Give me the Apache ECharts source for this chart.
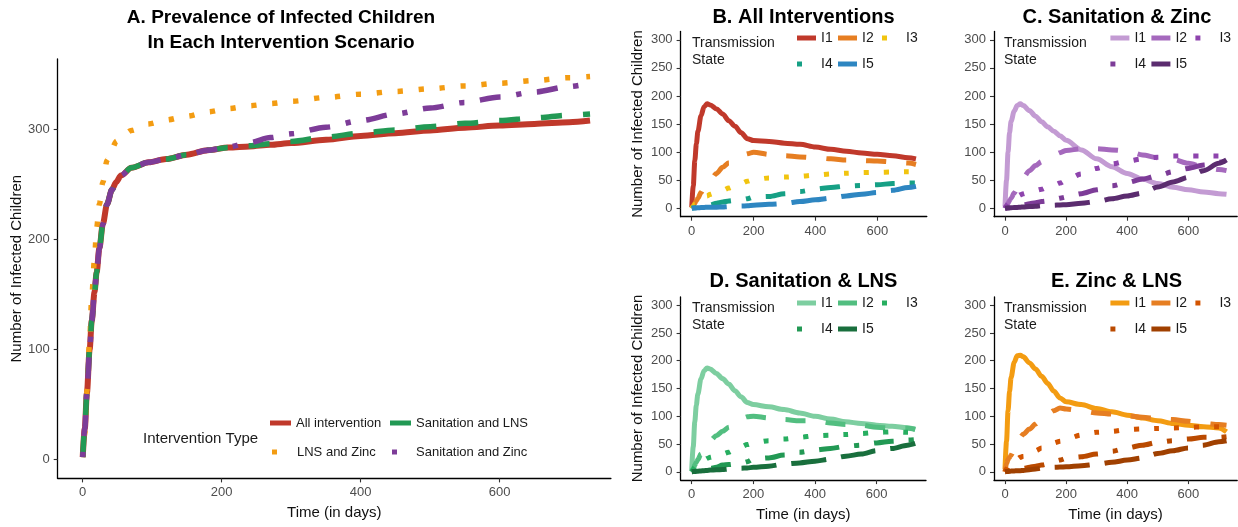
<!DOCTYPE html>
<html><head><meta charset="utf-8">
<script src="https://cdn.jsdelivr.net/npm/echarts@6/dist/echarts.min.js"></script>
<style>html,body{margin:0;padding:0;background:#fff}#c{width:1238px;height:527px}</style>
</head><body><div id="c"></div>
<script>
// ---------- Panel A data ----------
const daysA = [0,3,6,10,13,17,20,24,29,35,42,48,55,70,95,120,150,180,210,240,270,300,350,400,450,500,550,600,650,700,730];
const allIntervention = [2,28,60,100,126,152,170,192,214,232,245,252,258,265,270,273,277,281,283.5,284.5,286,287.5,290.5,294,296.5,299,301.5,303.5,305,306.5,308];
const lnsZinc = [2,24,62,108,148,182,210,232,252,272,282,289,293,299,305,308.5,312,316,319,321.5,323.5,325.5,329,332,334.5,337,339.5,342,344.5,347,348];
const sanitationLns = [2,28,60,100,126,152,170,192,214,232,245,252,258,265,270,273,277,281,283.5,285,287,289,293,296.5,299.5,302.5,305.5,308,310.5,313,314];
const sanitationZinc = [2,28,60,100,126,152,170,192,214,232,245,252,258,265,270,273,277,281,284,288,292.5,296,302,308,314,319.5,324.5,329.5,334,339,342];

// ---------- Panels B-E data ----------
const daysS = [0,5,10,15,20,30,40,50,60,80,100,120,140,160,180,200,250,300,350,400,450,500,550,600,650,700,725];
const allI1 = [2,40,85,115,137,165,181,186,184,177,168,156,146,134.5,124,120.5,119,116,114,109,105,101.5,98.5,96,93.5,90,88];
const allI2 = [0,4,9,14,18,28,36,43,50,62,73,81,87,92,97,100,96,93.5,91.5,90,88,86,85,84,82.5,80.5,78];
const allI3 = [0,3,7,10,13,17,20,22,25,29,32,36,40,44,48,51,54,55.5,57,59,61,62.5,63.5,64,64.5,65,65];
const allI4 = [0,0.5,1,1.5,2,3,4,5,6,9,11,13,14,15,17,20,21,26,30,34,37,39.5,40.5,42,44,45,45];
const allI5 = [0,0.3,0.5,0.7,1,1.2,1.5,1.8,2,2,2.3,3,3.3,4,4.5,5.5,7,8.5,12,15,18,22,25,28,32,37,39];

const szI1 = [3,50,100,135,155,173,183,186,183,174,164,154,145,137,129,121,104,88,74,62,52,44,37.5,33,29,26,25];
const szI2 = [0,4,9,14,18,27,35,45,55,67,76,83,89,94,99,103,106,106,104,102,95,90,87,80,74,69,67];
const szI3 = [0,4,8,11,14,18,21,24,26,30,32,34,38,41,45,50,61,71,79,84,88,91,93,93,93,93,93];
const szI4 = [0,0.5,1,1.5,2,3,4,5,6,8,10,12,13,15,18,20,26,33,40,46,52,58,65,71,77,82,85];
const szI5 = [0,0.2,0.5,0.7,1,1.3,1.6,2,2.3,3,3.5,4.5,5,5.5,6,6.5,9,12,17,22,27,38,47,55,67,80,86];

const slI1 = [3,45,90,120,140,167,182,187,185,177,168,158,146,135,125,121,117,112,106,100,95,90,87,84,82,79,77];
const slI2 = [0,5,12,17,22,32,40,48,56,65,73,80,88,95,99,100,97,94,92,92,88,85,84,80,79,79,76];
const slI3 = [0,4,8,11,14,18,21,24,26,29,32,35,40,45,49,52,56,59,62,65,66,67,69,71,72,71,71];
const slI4 = [0,0.5,1,1.5,2,3,4,5,6,8,12,13,14,15,18,23,25,30,35,39,42,46,48,52,55,57,58];
const slI5 = [0,0.3,0.5,0.8,1,1.5,2,2.5,3,3.5,4,5,6,6.5,7,8,10,14,16,19,23,28,32,38,42,48,51];

const zlI1 = [5,55,110,145,170,197,209,210,207,196,185,172,159,145,133,126,121,114,108,102,97,92,87,84,81,79,72];
const zlI2 = [0,15,22,26,30,40,52,62,68,77,86,96,104,110,115,113,110,106,104,101,98,96,94,91,87,85,84];
const zlI3 = [0,5,10,13,16,20,23,26,28,34,38,43,47,52,55,59,66,71,73,76,77,78,79,80,81,81,81];
const zlI4 = [0,0.5,1,2,2.5,3.5,4,5,6,8,10,12,14,18,21,24,27,32,37,43,48,53,56,59,62,62,63];
const zlI5 = [0,0.3,0.6,1,1.2,1.5,1.8,2,2.5,3.5,5,6.5,8,8,8.5,9,11,13.5,17,21,25,33,38,43,48,54,56];

const xTicks = [0,200,400,600];
const yTicksA = [0,100,200,300];
const yTicksS = [0,50,100,150,200,250,300];
const stateNames = ['I1','I2','I3','I4','I5'];

// ---------- styling ----------
const FONT = 'Liberation Sans, Arial, Helvetica, sans-serif';
const colorsA = {all:'#C0392B', lz:'#F39C12', sl:'#229954', sz:'#7D3C98'};
const palB = ['#C0392B','#E67E22','#F1C40F','#16A085','#2E86C1'];
const palC = ['#C39BD3','#A569BD','#8E44AD','#7D3C98','#5B2C6F'];
const palD = ['#7DCEA0','#52BE80','#27AE60','#229954','#196F3D'];
const palE = ['#F39C12','#E67E22','#D35400','#BA4A00','#A04000'];
const dashA = {dashed:[21,21], dotted:[5.25,15.75], dotdash:[5.25,15.75,21,15.75]};
const dashS = ['solid',[20,20],[5,15],[5,15,20,15],[35,15]];

// grids: [left, top, width, height]
const grids = [
  [57.7, 59, 553.2, 419.4],   // A
  [680.6, 31.4, 246.2, 185.3], // B
  [994, 31.4, 243.2, 185.3],   // C
  [680.6, 296.9, 245.4, 183.2],// D
  [994, 296.9, 243.2, 183.2]   // E
];

function xAx(gi, showName){
  return {type:'value', gridIndex:gi, min:-36, max:760,
    axisLine:{show:true, onZero:false, lineStyle:{color:'#000', width:1.3}},
    axisTick:{show:true, length:4, customValues:xTicks, lineStyle:{color:'#333', width:1.1}},
    axisLabel:{customValues:xTicks, color:'#4d4d4d', fontSize:13, margin:8, fontFamily:FONT},
    splitLine:{show:false},
    name: showName ? 'Time (in days)' : '', nameLocation:'middle', nameGap:27,
    nameTextStyle:{fontSize:15, color:'#111', fontFamily:FONT}};
}
function yAx(gi, min, max, ticks, showName, gap){
  return {type:'value', gridIndex:gi, min, max,
    axisLine:{show:true, onZero:false, lineStyle:{color:'#000', width:1.3}},
    axisTick:{show:true, length:4, customValues:ticks, lineStyle:{color:'#333', width:1.1}},
    axisLabel:{customValues:ticks, color:'#4d4d4d', fontSize:13, margin:8, fontFamily:FONT},
    splitLine:{show:false},
    name: showName ? 'Number of Infected Children' : '', nameLocation:'middle', nameRotate:90, nameGap:gap,
    nameTextStyle:{fontSize:15, color:'#111', fontFamily:FONT}};
}
function line(name, idx, days, vals, color, width, dash){
  return {type:'line', name, xAxisIndex:idx, yAxisIndex:idx,
    data: days.map((d,i)=>[d, vals[i]]),
    showSymbol:false, symbol:'none', smooth:0.3, smoothMonotone:'x',
    lineStyle:{color, width, type:dash, cap:'butt', join:'round'},
    itemStyle:{color}, emphasis:{disabled:true}, silent:true, clip:false, animation:false};
}
function legendItem(seriesName, left, centerY, square, fontSize, sqWidth, textOffset){
  const lh = fontSize + 2;
  const w = square ? sqWidth : (textOffset - 5);
  return {data:[seriesName], left, top: centerY - lh/2, padding:0, icon:'rect',
    itemWidth: w, itemHeight:5, itemGap:0, selectedMode:false,
    itemStyle:{borderWidth:0},
    formatter: n => n.split('|').pop(),
    textStyle:{fontSize, lineHeight:lh, color:'#1a1a1a', fontFamily:FONT,
      padding: square ? [0,0,0, textOffset - sqWidth - 5] : 0}};
}

const series = [];
series.push(line('All intervention',0,daysA,allIntervention,colorsA.all,6,'solid'));
series.push(line('LNS and Zinc',0,daysA,lnsZinc,colorsA.lz,5.5,dashA.dotted));
series.push(line('Sanitation and LNS',0,daysA,sanitationLns,colorsA.sl,5.5,dashA.dashed));
series.push(line('Sanitation and Zinc',0,daysA,sanitationZinc,colorsA.sz,5.5,dashA.dotdash));

const panels = [
  {key:'B', idx:1, pal:palB, vals:[allI1,allI2,allI3,allI4,allI5]},
  {key:'C', idx:2, pal:palC, vals:[szI1,szI2,szI3,szI4,szI5]},
  {key:'D', idx:3, pal:palD, vals:[slI1,slI2,slI3,slI4,slI5]},
  {key:'E', idx:4, pal:palE, vals:[zlI1,zlI2,zlI3,zlI4,zlI5]}
];
panels.forEach(p=>{
  p.vals.forEach((v,k)=>{
    series.push(line(p.key+'|'+stateNames[k], p.idx, daysS, v, p.pal[k], 5, dashS[k]));
  });
});

// legends
const legends = [
  legendItem('All intervention', 270, 423, false, 13, 5, 26),
  legendItem('Sanitation and LNS', 390, 423, false, 13, 5, 26),
  legendItem('LNS and Zinc', 272, 452, true, 13, 5, 25),
  legendItem('Sanitation and Zinc', 392, 452, true, 13, 5, 24)
];
panels.forEach(p=>{
  const ax = grids[p.idx][0] + 1.4; // axis line x
  const rowTop = p.idx <= 2 ? 38 : 303;
  const rowBot = p.idx <= 2 ? 64 : 329;
  const cols = [ax+115, ax+156, ax+200];
  legends.push(legendItem(p.key+'|I1', cols[0], rowTop, false, 14, 5, 24));
  legends.push(legendItem(p.key+'|I2', cols[1], rowTop, false, 14, 5, 24));
  legends.push(legendItem(p.key+'|I3', cols[2], rowTop, true, 14, 5, 24));
  legends.push(legendItem(p.key+'|I4', cols[0], rowBot, true, 14, 5, 24));
  legends.push(legendItem(p.key+'|I5', cols[1], rowBot, false, 14, 5, 24));
});

const titles = [
  {text:'A. Prevalence of Infected Children\nIn Each Intervention Scenario', left:281, top:5, textAlign:'center', padding:0,
    textStyle:{fontSize:19, fontWeight:'bold', lineHeight:25, color:'#000', fontFamily:FONT}},
  {text:'B. All Interventions', left:803.5, top:6, textAlign:'center', padding:0,
    textStyle:{fontSize:20, fontWeight:'bold', lineHeight:22, color:'#000', fontFamily:FONT}},
  {text:'C. Sanitation & Zinc', left:1117, top:6, textAlign:'center', padding:0,
    textStyle:{fontSize:20, fontWeight:'bold', lineHeight:22, color:'#000', fontFamily:FONT}},
  {text:'D. Sanitation & LNS', left:803.5, top:270, textAlign:'center', padding:0,
    textStyle:{fontSize:20, fontWeight:'bold', lineHeight:22, color:'#000', fontFamily:FONT}},
  {text:'E. Zinc & LNS', left:1116.5, top:270, textAlign:'center', padding:0,
    textStyle:{fontSize:20, fontWeight:'bold', lineHeight:22, color:'#000', fontFamily:FONT}},
  {text:'Intervention Type', left:143, top:430.5, padding:0,
    textStyle:{fontSize:15, fontWeight:'normal', lineHeight:17, color:'#1a1a1a', fontFamily:FONT}}
];
[[692,34.5],[1004,34.5],[692,299.5],[1004,299.5]].forEach(([l,t])=>{
  titles.push({text:'Transmission\nState', left:l, top:t, padding:0,
    textStyle:{fontSize:14, fontWeight:'normal', lineHeight:17, color:'#1a1a1a', fontFamily:FONT}});
});

const option = {
  backgroundColor:'#ffffff',
  animation:false,
  textStyle:{fontFamily:FONT},
  title: titles,
  legend: legends,
  grid: grids.map(g=>({left:g[0], top:g[1], width:g[2], height:g[3], containLabel:false, show:false})),
  xAxis: [xAx(0,true), xAx(1,false), xAx(2,false), xAx(3,true), xAx(4,true)],
  yAxis: [yAx(0,-17.4,364,yTicksA,true,32), yAx(1,-15,315,yTicksS,true,35), yAx(2,-15,315,yTicksS,false,30),
          yAx(3,-15,315,yTicksS,true,35), yAx(4,-15,315,yTicksS,false,30)],
  series
};
const chart = echarts.init(document.getElementById('c'), null, {renderer:'canvas', width:1238, height:527});
chart.setOption(option);
</script></body></html>
